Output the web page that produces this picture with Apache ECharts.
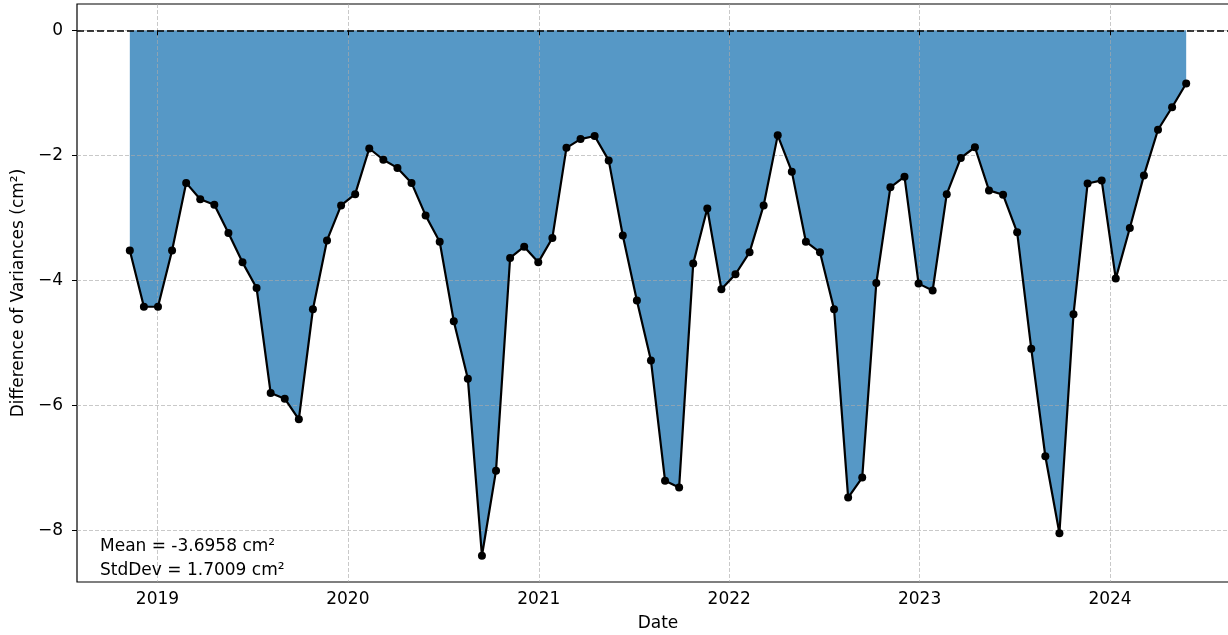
<!DOCTYPE html>
<html>
<head>
<meta charset="utf-8">
<script src="https://cdn.jsdelivr.net/npm/echarts@6/dist/echarts.min.js"></script>
<style>
  html, body { margin: 0; padding: 0; background: #fff; }
  #chart { width: 1228px; height: 635px; }
</style>
</head>
<body>
<div id="chart"></div>
<script>
// Acquisition dates (27-day revisit) and difference of variances per date
const dates = [
  '2018-11-09','2018-12-06','2019-01-02','2019-01-29','2019-02-25','2019-03-24','2019-04-20','2019-05-17',
  '2019-06-13','2019-07-10','2019-08-06','2019-09-02','2019-09-29','2019-10-26','2019-11-22','2019-12-19',
  '2020-01-15','2020-02-11','2020-03-09','2020-04-05','2020-05-02','2020-05-29','2020-06-25','2020-07-22',
  '2020-08-18','2020-09-14','2020-10-11','2020-11-07','2020-12-04','2020-12-31','2021-01-27','2021-02-23',
  '2021-03-22','2021-04-18','2021-05-15','2021-06-11','2021-07-08','2021-08-04','2021-08-31','2021-09-27',
  '2021-10-24','2021-11-20','2021-12-17','2022-01-13','2022-02-09','2022-03-08','2022-04-04','2022-05-01',
  '2022-05-28','2022-06-24','2022-07-21','2022-08-17','2022-09-13','2022-10-10','2022-11-06','2022-12-03',
  '2022-12-30','2023-01-26','2023-02-22','2023-03-21','2023-04-17','2023-05-14','2023-06-10','2023-07-07',
  '2023-08-03','2023-08-30','2023-09-26','2023-10-23','2023-11-19','2023-12-16','2024-01-12','2024-02-08',
  '2024-03-06','2024-04-02','2024-04-29','2024-05-26'
];
const diffValues = [
  -3.52, -4.42, -4.42, -3.52, -2.44, -2.70, -2.79, -3.24, -3.71, -4.12,
  -5.80, -5.89, -6.22, -4.46, -3.36, -2.80, -2.62, -1.89, -2.07, -2.20,
  -2.44, -2.96, -3.38, -4.65, -5.57, -8.40, -7.04, -3.64, -3.46, -3.71,
  -3.32, -1.88, -1.74, -1.69, -2.08, -3.28, -4.32, -5.28, -7.20, -7.31,
  -3.73, -2.85, -4.14, -3.90, -3.55, -2.80, -1.68, -2.26, -3.38, -3.55,
  -4.46, -7.47, -7.15, -4.04, -2.51, -2.34, -4.05, -4.16, -2.62, -2.04,
  -1.87, -2.56, -2.63, -3.23, -5.09, -6.81, -8.04, -4.54, -2.45, -2.40,
  -3.97, -3.16, -2.32, -1.59, -1.23, -0.85
];
const yearTicks = ['2019', '2020', '2021', '2022', '2023', '2024'];
const yTicks = [-8, -6, -4, -2, 0];
const statLines = ['Mean = -3.6958 cm\u00b2', 'StdDev = 1.7009 cm\u00b2'];

const FONT = '"DejaVu Sans", "Liberation Sans", sans-serif';

function toTime(s) {
  const p = s.split('-').map(Number);
  return Date.UTC(p[0], p[1] - 1, p[2]);
}

const times = dates.map(toTime);
const seriesData = times.map((t, i) => [t, diffValues[i]]);

// 5% padding on each side of the data span
const span = times[times.length - 1] - times[0];
const xMin = times[0] - 0.05 * span;
const xMax = times[times.length - 1] + 0.05 * span;
const yMin = -8.82, yMax = 0.42;

const yearTimes = yearTicks.map(y => Date.UTC(Number(y), 0, 1));

const gridLine = { show: true, lineStyle: { color: 'rgba(170,170,170,0.8)', width: 0.8, type: [4, 2] } };

const chart = echarts.init(document.getElementById('chart'), null, { renderer: 'canvas' });
chart.setOption({
  animation: false,
  backgroundColor: '#fff',
  textStyle: { fontFamily: FONT },
  grid: {
    left: 77, top: 4, right: -11, bottom: 53,
    outerBoundsMode: 'none', containLabel: false,
    show: true, borderColor: '#000', borderWidth: 1.2, backgroundColor: 'transparent'
  },
  xAxis: {
    type: 'value', min: xMin, max: xMax, z: 2, scale: true,
    name: 'Date', nameLocation: 'middle', nameGap: 33,
    nameTextStyle: { fontSize: 17, color: '#000', fontFamily: FONT },
    axisLine: { show: false },
    axisTick: { show: true, length: 5, lineStyle: { color: '#000', width: 1 }, customValues: yearTimes },
    axisLabel: {
      customValues: yearTimes, margin: 9, fontSize: 17, color: '#000', fontFamily: FONT,
      formatter: v => String(new Date(v).getUTCFullYear())
    },
    splitLine: gridLine
  },
  yAxis: {
    type: 'value', min: yMin, max: yMax, z: 2,
    name: 'Difference of Variances (cm\u00b2)', nameLocation: 'middle', nameGap: 35, nameRotate: 90,
    nameTextStyle: { fontSize: 17, color: '#000', fontFamily: FONT },
    axisLine: { show: false },
    axisTick: { show: true, length: 5, lineStyle: { color: '#000', width: 1 }, customValues: yTicks },
    axisLabel: {
      customValues: yTicks, margin: 14, fontSize: 17, color: '#000', fontFamily: FONT,
      formatter: v => String(v).replace('-', '\u2212')
    },
    splitLine: gridLine
  },
  series: [
    {
      // filled region between the curve and zero
      type: 'line', data: seriesData, z: 1,
      symbol: 'none', lineStyle: { width: 0, opacity: 0 },
      areaStyle: { color: '#5698c6', opacity: 1, origin: 0 },
      silent: true
    },
    {
      type: 'line', data: seriesData, z: 3,
      symbol: 'circle', symbolSize: 8,
      itemStyle: { color: '#000' },
      lineStyle: { color: '#000', width: 2.2 },
      markLine: {
        silent: true, symbol: 'none', label: { show: false },
        lineStyle: { color: '#000', width: 1.5, type: [7, 3] },
        data: [{ yAxis: 0 }]
      }
    }
  ],
  graphic: statLines.map((t, i) => ({
    type: 'text', left: 100, top: 538 + i * 24, z: 10,
    style: { text: t, fontSize: 17, fill: '#000', fontFamily: FONT }
  }))
});
</script>
</body>
</html>
